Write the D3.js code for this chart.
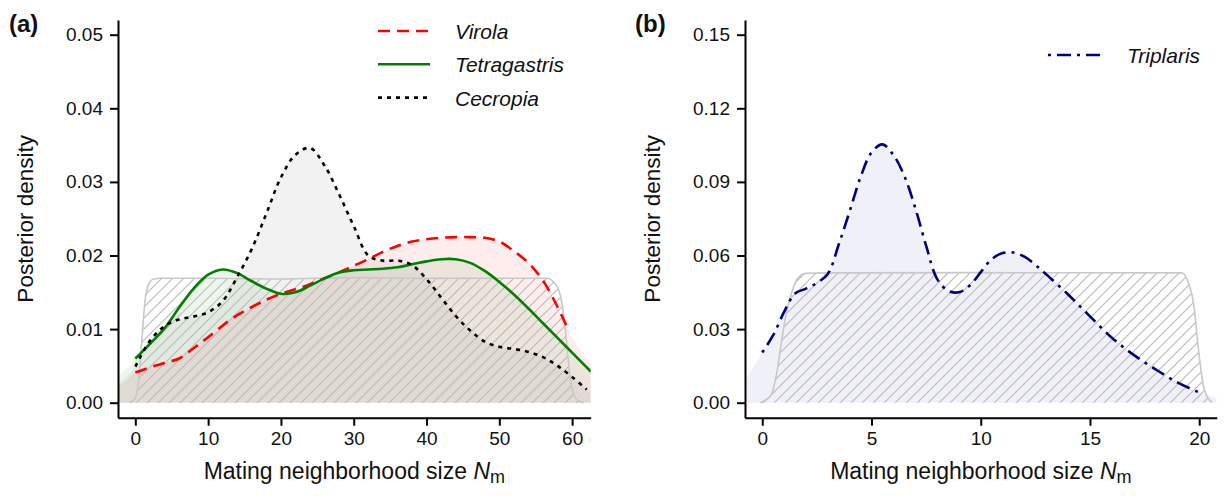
<!DOCTYPE html>
<html>
<head>
<meta charset="utf-8">
<script src="https://cdn.jsdelivr.net/npm/d3@7"></script>
<style>
  html, body { margin: 0; padding: 0; background: #fff; }
  svg { display: block; font-family: "Liberation Sans", Arial, Helvetica, sans-serif; }
</style>
</head>
<body>
<svg id="chart" width="1225" height="496"></svg>
<script>
// ---- Panel (a): posterior densities of mating neighbourhood size ----
const gridA = [-2.4, -1, 0, 2, 4, 6, 8, 10, 12, 14, 16, 18, 20, 22, 24, 26, 28, 30,
  32, 34, 36, 38, 40, 42, 44, 46, 48, 50, 52, 54, 56, 58, 60, 62, 62.6];
const virola = [0.0022, 0.0032, 0.0041, 0.0048, 0.0054, 0.0060, 0.0074, 0.0089, 0.0105,
  0.0119, 0.0130, 0.0140, 0.0148, 0.0154, 0.0161, 0.0169, 0.0177, 0.0186, 0.0195, 0.0205,
  0.0213, 0.0219, 0.0222, 0.0224, 0.0225, 0.0225, 0.0224, 0.0219, 0.0206, 0.0190, 0.0166,
  0.0130, 0.0088, 0.0060, 0.0054];
const tetragastris = [0.0035, 0.0048, 0.0060, 0.0080, 0.0101, 0.0129, 0.0155, 0.0174,
  0.0181, 0.0176, 0.0165, 0.0155, 0.0148, 0.0150, 0.0159, 0.0169, 0.0177, 0.0180, 0.0181,
  0.0182, 0.0184, 0.0188, 0.0192, 0.0195, 0.0195, 0.0190, 0.0179, 0.0164, 0.0147, 0.0128,
  0.0108, 0.0088, 0.0068, 0.0048, 0.0042];
const cecropia = [0.0025, 0.0037, 0.0049, 0.0084, 0.0104, 0.0113, 0.0117, 0.0123, 0.0138,
  0.0171, 0.0209, 0.0257, 0.0306, 0.0337, 0.0346, 0.0322, 0.0283, 0.0240, 0.0200, 0.0193,
  0.0193, 0.0187, 0.0168, 0.0143, 0.0118, 0.0098, 0.0083, 0.0076, 0.0073, 0.0069, 0.0062,
  0.0050, 0.0035, 0.0018, 0.0014];
// range of each drawn line (the shaded density extends beyond it)
const lineRangeA = { virola: [0, 59.4], tetragastris: [0, 62.6], cecropia: [0, 62] };

// uniform prior on the neighbourhood size, kernel-smoothed
const priorAx = [-0.8, 0, 0.5, 0.9, 1.3, 1.8, 2.5, 3.5, 10, 20, 30, 40, 50, 56.5, 57.8,
  58.6, 59.1, 59.6, 60.1, 60.8, 61.6];
const priorAy = [0, 0.0006, 0.0035, 0.0085, 0.0135, 0.0160, 0.0168, 0.0169, 0.0169, 0.0168,
  0.0170, 0.0169, 0.0169, 0.0169, 0.0160, 0.0135, 0.0095, 0.0045, 0.0015, 0.0003, 0];

const ticksXA = [0, 10, 20, 30, 40, 50, 60];
const ticksYA = [0, 0.01, 0.02, 0.03, 0.04, 0.05];

// ---- Panel (b) ----
const gridB = [-0.8, 0, 0.5, 1, 1.5, 2, 2.5, 3, 3.5, 4, 4.5, 5, 5.5, 6, 6.5, 7, 7.5, 8,
  8.5, 9, 9.5, 10, 10.5, 11, 11.5, 12, 12.5, 13, 14, 15, 16, 17, 18, 19, 20, 20.8];
const triplaris = [0.0086, 0.0205, 0.0275, 0.0370, 0.0445, 0.0465, 0.0488, 0.0525, 0.0645,
  0.0780, 0.0920, 0.1020, 0.1053, 0.1010, 0.0925, 0.0795, 0.0640, 0.0505, 0.0457, 0.0450,
  0.0478, 0.0532, 0.0585, 0.0610, 0.0612, 0.0595, 0.0562, 0.0523, 0.0441, 0.0352, 0.0265,
  0.0195, 0.0136, 0.0083, 0.0042, 0.0020];
const lineRangeB = { triplaris: [0, 20.05] };

const priorBx = [-0.1, 0.4, 0.66, 0.9, 1.1, 1.35, 1.57, 2.0, 3, 10, 19.2, 19.5, 19.75,
  19.95, 20.2, 20.4, 20.6];
const priorBy = [0, 0.003, 0.012, 0.026, 0.0365, 0.045, 0.050, 0.0527, 0.0529, 0.0530,
  0.0529, 0.049, 0.040, 0.0229, 0.0065, 0.002, 0];

const ticksXB = [0, 5, 10, 15, 20];
const ticksYB = [0, 0.03, 0.06, 0.09, 0.12, 0.15];

// ---- drawing ----
const svg = d3.select("#chart");
const defs = svg.append("defs");

const hatch = defs.append("pattern")
  .attr("id", "hatch").attr("patternUnits", "userSpaceOnUse")
  .attr("width", 11).attr("height", 11);
hatch.append("path")
  .attr("d", "M-1,12 L12,-1 M-3,3 L3,-3 M8,14 L14,8")
  .attr("stroke", "#b9b9b9").attr("stroke-width", 1.1).attr("fill", "none");

const styles = {
  virola:       { color: "#ff0000", fill: "rgba(255,0,0,0.07)",   dash: "12,7", width: 2.6, label: "Virola" },
  tetragastris: { color: "#007f00", fill: "rgba(0,128,0,0.07)",   dash: null,   width: 2.6, label: "Tetragastris" },
  cecropia:     { color: "#000000", fill: "rgba(128,128,128,0.1)", dash: "4,5", width: 2.6, label: "Cecropia" },
  triplaris:    { color: "#000080", fill: "rgba(0,0,128,0.06)",   dash: "3,6,14,6", width: 2.6, label: "Triplaris" }
};

function panel(cfg) {
  const x = d3.scaleLinear().domain(cfg.xDomain).range([cfg.left, cfg.right]);
  const y = d3.scaleLinear().domain(cfg.yDomainRef).range(cfg.yRangeRef);
  const yFull = y.copy().domain([y.invert(cfg.bottom), y.invert(cfg.top)]).range([cfg.bottom, cfg.top]);

  const g = svg.append("g");
  const clipId = "clip-" + cfg.id;
  defs.append("clipPath").attr("id", clipId).append("rect")
    .attr("x", cfg.left).attr("y", cfg.top)
    .attr("width", cfg.right - cfg.left).attr("height", cfg.bottom - cfg.top);
  const plot = g.append("g").attr("clip-path", `url(#${clipId})`);

  const area = d3.area().x(d => x(d[0])).y0(y(0)).y1(d => y(d[1])).curve(d3.curveCatmullRom);
  const line = d3.line().x(d => x(d[0])).y(d => y(d[1])).curve(d3.curveCatmullRom);

  // shaded posterior densities
  cfg.series.forEach(s => {
    const pts = cfg.grid.map((v, i) => [v, s.values[i]]);
    plot.append("path").attr("d", area(pts)).attr("fill", styles[s.key].fill);
  });

  // prior: hatched area with a light outline
  const priorPts = cfg.priorX.map((v, i) => [v, cfg.priorY[i]]);
  const pArea = d3.area().x(d => x(d[0])).y0(y(0)).y1(d => y(d[1])).curve(d3.curveMonotoneX);
  const pLine = d3.line().x(d => x(d[0])).y(d => y(d[1])).curve(d3.curveMonotoneX);
  plot.append("path").attr("d", pArea(priorPts)).attr("fill", "url(#hatch)");
  plot.append("path").attr("d", pLine(priorPts)).attr("fill", "none")
    .attr("stroke", "#c8c8c8").attr("stroke-width", 1.6);

  // posterior lines, restricted to their range
  cfg.series.forEach(s => {
    const st = styles[s.key];
    const [a, b] = cfg.ranges[s.key];
    const pts = cfg.grid.map((v, i) => [v, s.values[i]]);
    // interpolate end points so the line stops exactly at its range limits
    const interp = t => {
      for (let i = 0; i < pts.length - 1; i++) {
        if (t >= pts[i][0] && t <= pts[i + 1][0]) {
          const f = (t - pts[i][0]) / (pts[i + 1][0] - pts[i][0]);
          return [t, pts[i][1] + f * (pts[i + 1][1] - pts[i][1])];
        }
      }
      return pts[pts.length - 1];
    };
    const inner = pts.filter(p => p[0] > a && p[0] < b);
    const ptsLine = [interp(a), ...inner, interp(b)];
    plot.append("path").attr("d", line(ptsLine)).attr("fill", "none")
      .attr("stroke", st.color).attr("stroke-width", st.width)
      .attr("stroke-dasharray", st.dash);
  });

  // axes
  const xAxis = g.append("g").attr("transform", `translate(0,${cfg.bottom})`)
    .call(d3.axisBottom(x).tickValues(cfg.ticksX).tickFormat(d3.format("d"))
      .tickSize(8).tickSizeOuter(0).tickPadding(6));
  const yAxis = g.append("g").attr("transform", `translate(${cfg.left},0)`)
    .call(d3.axisLeft(yFull).tickValues(cfg.ticksY).tickFormat(d3.format(".2f"))
      .tickSize(8).tickSizeOuter(0).tickPadding(7));
  [xAxis, yAxis].forEach(ax => {
    ax.select(".domain").attr("stroke", "#000").attr("stroke-width", 2);
    ax.selectAll(".tick line").attr("stroke", "#000").attr("stroke-width", 2);
    ax.selectAll(".tick text").attr("fill", "#111").style("font-size", "19px")
      .style("font-family", "'Liberation Sans', Arial, sans-serif");
  });

  // axis titles
  const xt = g.append("text").attr("x", (cfg.left + cfg.right) / 2).attr("y", 479)
    .attr("text-anchor", "middle").style("font-size", "23px").attr("fill", "#111");
  xt.append("tspan").text("Mating neighborhood size ");
  xt.append("tspan").text("N").style("font-style", "italic");
  xt.append("tspan").text("m").attr("dy", 4).style("font-size", "18px");

  g.append("text")
    .attr("transform", `translate(${cfg.yTitleX},${(cfg.top + cfg.bottom) / 2}) rotate(-90)`)
    .attr("text-anchor", "middle").style("font-size", "22.5px").attr("fill", "#111")
    .text("Posterior density");

  // panel tag
  g.append("text").attr("x", cfg.tagX).attr("y", 32)
    .style("font-size", "24px").style("font-weight", "bold").attr("fill", "#111")
    .text(cfg.tag);

  // legend
  cfg.series.forEach((s, i) => {
    const st = styles[s.key];
    const ly = cfg.legendY + i * cfg.legendStep;
    g.append("line").attr("x1", cfg.legendX1).attr("x2", cfg.legendX2)
      .attr("y1", ly).attr("y2", ly)
      .attr("stroke", st.color).attr("stroke-width", st.width)
      .attr("stroke-dasharray", st.dash);
    g.append("text").attr("x", cfg.legendTextX).attr("y", ly + 8)
      .style("font-size", "21px").style("font-style", "italic").attr("fill", "#111")
      .text(st.label);
  });
}

panel({
  id: "a", tag: "(a)", tagX: 9,
  left: 118, right: 590.7, top: 20, bottom: 417.7,
  xDomain: [-2.38, 62.55],
  yDomainRef: [0, 0.05], yRangeRef: [402.7, 34.7],
  grid: gridA,
  series: [
    { key: "virola", values: virola },
    { key: "tetragastris", values: tetragastris },
    { key: "cecropia", values: cecropia }
  ],
  ranges: lineRangeA,
  priorX: priorAx, priorY: priorAy,
  ticksX: ticksXA, ticksY: ticksYA,
  yTitleX: 33,
  legendX1: 378, legendX2: 430, legendTextX: 455, legendY: 31, legendStep: 33.3
});

panel({
  id: "b", tag: "(b)", tagX: 635,
  left: 745, right: 1216.7, top: 20, bottom: 417.7,
  xDomain: [-0.79, 20.8],
  yDomainRef: [0, 0.15], yRangeRef: [402.7, 34.7],
  grid: gridB,
  series: [{ key: "triplaris", values: triplaris }],
  ranges: lineRangeB,
  priorX: priorBx, priorY: priorBy,
  ticksX: ticksXB, ticksY: ticksYB,
  yTitleX: 660,
  legendX1: 1048, legendX2: 1100, legendTextX: 1127, legendY: 55, legendStep: 33
});
</script>
</body>
</html>
